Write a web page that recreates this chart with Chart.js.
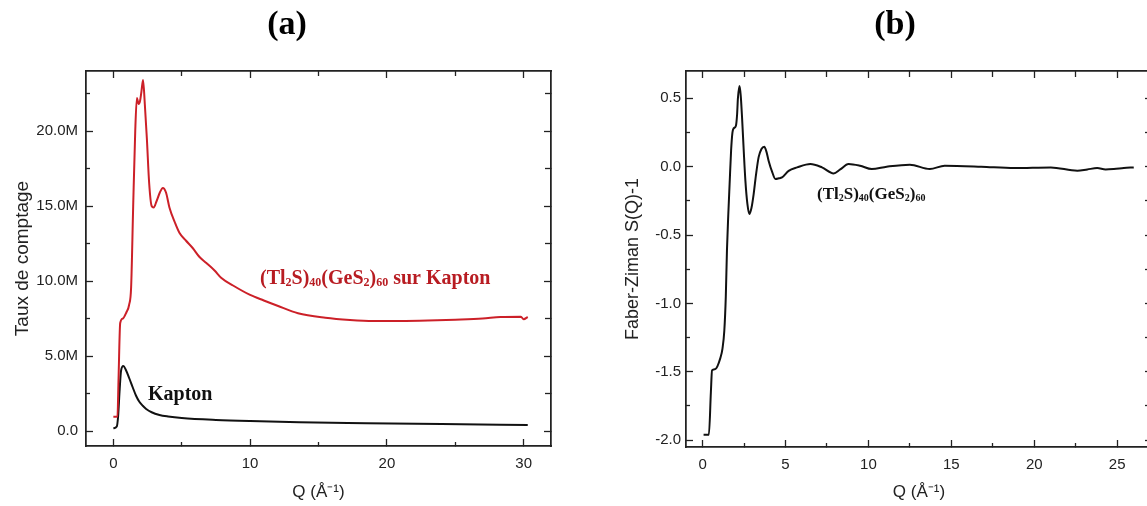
<!DOCTYPE html>
<html><head><meta charset="utf-8">
<script src="https://cdn.jsdelivr.net/npm/chart.js@4.4.0/dist/chart.umd.min.js"></script>
<style>
html,body{margin:0;padding:0;background:#fff;overflow:hidden;width:1147px;height:506px;position:relative;}
#wa{position:absolute;left:0;top:0;width:580px;height:506px;}
#wb{position:absolute;left:600px;top:0;width:560px;height:506px;}
.lbl{position:absolute;top:3px;width:120px;text-align:center;font:bold 34px "Liberation Serif",serif;color:#000;line-height:40px;}
</style></head><body>
<div id="wa"><canvas id="ca"></canvas></div>
<div id="wb"><canvas id="cb"></canvas></div>
<div class="lbl" style="left:227px">(a)</div>
<div class="lbl" style="left:835px">(b)</div>
<script>
// ---- Panel (a): counting rate vs Q ----
const qSample = [0, 0.3, 0.38, 0.5, 0.7, 0.95, 1.15, 1.3, 1.45, 1.6, 1.72, 1.85, 1.95, 2.05, 2.17, 2.3, 2.45, 2.62, 2.8, 2.95, 3.15, 3.4, 3.62, 3.85, 4.1, 4.5, 4.84, 5.3, 5.8, 6.3, 6.8, 7.4, 7.9, 8.75, 10.0, 11.0, 12.0, 13.5, 15.5, 17.3, 19.0, 21.0, 23.0, 25.0, 27.0, 28.3, 29.8, 30.0, 30.3];
const countsSample = [0.95, 0.95, 3.5, 7.2, 7.5, 7.9, 8.4, 9.6, 15.0, 20.0, 22.2, 21.8, 22.0, 22.6, 23.4, 21.8, 19.5, 16.5, 15.0, 14.9, 15.3, 15.9, 16.2, 15.9, 14.9, 13.9, 13.2, 12.7, 12.2, 11.6, 11.2, 10.7, 10.2, 9.7, 9.07, 8.7, 8.35, 7.85, 7.55, 7.4, 7.33, 7.33, 7.36, 7.42, 7.5, 7.6, 7.62, 7.45, 7.6].map(v => v * 1e6);
const qKapton = [0, 0.25, 0.35, 0.45, 0.56, 0.73, 0.9, 1.17, 1.42, 1.66, 1.9, 2.15, 2.4, 2.8, 3.37, 4.0, 5.0, 7.5, 10, 13.6, 18.5, 24, 30.3];
const countsKapton = [0.18, 0.3, 1.0, 2.6, 4.0, 4.33, 4.1, 3.5, 2.9, 2.35, 1.95, 1.68, 1.47, 1.25, 1.07, 0.97, 0.87, 0.74, 0.66, 0.58, 0.52, 0.46, 0.4].map(v => v * 1e6);
const xTicksA = [0, 10, 20, 30];
const xMinorA = [5, 15, 25];
const yTicksA = [0, 5e6, 10e6, 15e6, 20e6];
const yMinorA = [2.5e6, 7.5e6, 12.5e6, 17.5e6, 22.5e6];

// ---- Panel (b): Faber-Ziman S(Q)-1 ----
const qSQ = [0.06, 0.38, 0.5, 0.57, 0.77, 1.07, 1.2, 1.31, 1.4, 1.47, 1.55, 1.63, 1.72, 1.8, 1.87, 2.01, 2.08, 2.13, 2.23, 2.3, 2.38, 2.48, 2.58, 2.7, 2.82, 2.95, 3.08, 3.22, 3.38, 3.55, 3.72, 3.85, 3.98, 4.2, 4.39, 4.6, 4.79, 5.19, 5.7, 6.5, 7.2, 7.9, 8.3, 8.8, 9.5, 10.2, 11.1, 12.5, 13.7, 14.6, 16.8, 18.8, 21.0, 22.6, 23.2, 23.8, 24.3, 24.8, 25.4, 26.0];
const sqValues = [-1.96, -1.96, -1.65, -1.49, -1.48, -1.40, -1.33, -1.20, -0.95, -0.61, -0.35, -0.125, 0.12, 0.25, 0.28, 0.30, 0.38, 0.5, 0.59, 0.52, 0.36, 0.12, -0.10, -0.27, -0.346, -0.3, -0.2, -0.06, 0.07, 0.13, 0.146, 0.11, 0.044, -0.04, -0.09, -0.085, -0.078, -0.03, -0.005, 0.02, -0.005, -0.049, -0.02, 0.02, 0.007, -0.017, 0.0, 0.015, -0.017, 0.007, 0.0, -0.01, -0.005, -0.03, -0.02, -0.01, -0.02, -0.017, -0.01, -0.005];
const xTicksB = [0, 5, 10, 15, 20, 25];
const xMinorB = [2.5, 7.5, 12.5, 17.5, 22.5];
const yTicksB = [-2, -1.5, -1, -0.5, 0, 0.5];
const yMinorB = [-1.75, -1.25, -0.75, -0.25, 0.25];

const SANS = '"Liberation Sans", Arial, sans-serif';
const SERIF = '"Liberation Serif", "Times New Roman", serif';
const INK = '#222';

function mkAxis(o) {
  const horiz = o.pos === 'top' || o.pos === 'bottom';
  return {
    type: 'linear', position: o.pos, min: o.min, max: o.max, weight: o.weight || 0,
    afterBuildTicks: s => { s.ticks = o.ticks.map(v => ({ value: v })); },
    afterFit: s => { if (horiz) s.height = o.size || 0; else s.width = o.size || 0; },
    grid: { display: true, drawOnChartArea: false, drawTicks: true, tickLength: -o.len, tickColor: INK, tickWidth: 1.3 },
    border: { display: true, color: INK, width: 1.5 },
    ticks: { display: !!o.fmt, padding: o.pad || 0, font: { family: SANS, size: 15 }, color: INK,
             callback: o.fmt || (() => ''), maxRotation: 0, minRotation: 0, autoSkip: false },
    title: o.title || { display: false }
  };
}

function richText(ctx, x, y, parts, size, sub, color) {
  ctx.save();
  ctx.fillStyle = color;
  ctx.textBaseline = 'alphabetic';
  for (const [t, isSub] of parts) {
    ctx.font = 'bold ' + (isSub ? sub : size) + 'px ' + SERIF;
    ctx.fillText(t, x, isSub ? y + 2 : y);
    x += ctx.measureText(t).width;
  }
  ctx.restore();
}
const formulaParts = [['(Tl', 0], ['2', 1], ['S)', 0], ['40', 1], ['(GeS', 0], ['2', 1], [')', 0], ['60', 1]];

const annotA = {
  id: 'annotA',
  afterDatasetsDraw(chart) {
    const ctx = chart.ctx;
    richText(ctx, 260, 284, formulaParts.concat([[' sur Kapton', 0]]), 20, 12, '#b81c22');
    richText(ctx, 148, 400, [['Kapton', 0]], 20, 12, '#111');
  }
};
const annotB = {
  id: 'annotB',
  afterDatasetsDraw(chart) {
    richText(chart.ctx, 217, 199, formulaParts, 17, 10, '#111');
  }
};

const fmtM = v => v === 0 ? '0.0' : (v / 1e6).toFixed(1) + 'M';
const fmt1 = v => v.toFixed(1);
const fmt0 = v => String(v);
const qTitle = (pad) => ({ display: true, text: 'Q (Å⁻¹)', color: INK, font: { family: SANS, size: 17 }, padding: { top: 0, bottom: pad } });

new Chart(document.getElementById('ca'), {
  type: 'line',
  data: {
    datasets: [
      { data: qSample.map((q, i) => ({ x: q, y: countsSample[i] })), borderColor: '#cc2028', borderWidth: 2,
        pointRadius: 0, cubicInterpolationMode: 'monotone', fill: false },
      { data: qKapton.map((q, i) => ({ x: q, y: countsKapton[i] })), borderColor: '#111', borderWidth: 2,
        pointRadius: 0, cubicInterpolationMode: 'monotone', fill: false }
    ]
  },
  options: {
    animation: false, responsive: true, maintainAspectRatio: false,
    layout: { padding: { top: 71, right: 29, left: 0, bottom: 0 } },
    plugins: { legend: { display: false }, tooltip: { enabled: false } },
    scales: {
      x: mkAxis({ pos: 'bottom', min: -2, max: 32, ticks: xTicksA, len: 7, fmt: fmt0, pad: 16, size: 60, weight: 1, title: qTitle(3) }),
      x2: mkAxis({ pos: 'bottom', min: -2, max: 32, ticks: xMinorA, len: 4 }),
      xt: mkAxis({ pos: 'top', min: -2, max: 32, ticks: xTicksA, len: 7 }),
      xt2: mkAxis({ pos: 'top', min: -2, max: 32, ticks: xMinorA, len: 5 }),
      y: mkAxis({ pos: 'left', min: -1e6, max: 24e6, ticks: yTicksA, len: 7, fmt: fmtM, pad: 15, size: 86, weight: 1,
        title: { display: true, text: 'Taux de comptage', color: INK, font: { family: SANS, size: 19 }, padding: { top: 11, bottom: 0 } } }),
      y2: mkAxis({ pos: 'left', min: -1e6, max: 24e6, ticks: yMinorA, len: 4 }),
      yr: mkAxis({ pos: 'right', min: -1e6, max: 24e6, ticks: yTicksA, len: 7 }),
      yr2: mkAxis({ pos: 'right', min: -1e6, max: 24e6, ticks: yMinorA, len: 6 })
    }
  },
  plugins: [annotA]
});

new Chart(document.getElementById('cb'), {
  type: 'line',
  data: {
    datasets: [
      { data: qSQ.map((q, i) => ({ x: q, y: sqValues[i] })), borderColor: '#111', borderWidth: 2,
        pointRadius: 0, cubicInterpolationMode: 'monotone', fill: false }
    ]
  },
  options: {
    animation: false, responsive: true, maintainAspectRatio: false,
    layout: { padding: { top: 71, right: 8, left: 0, bottom: 0 } },
    plugins: { legend: { display: false }, tooltip: { enabled: false } },
    scales: {
      x: mkAxis({ pos: 'bottom', min: -1, max: 27.1, ticks: xTicksB, len: 7, fmt: fmt0, pad: 16, size: 59, weight: 1, title: qTitle(3) }),
      x2: mkAxis({ pos: 'bottom', min: -1, max: 27.1, ticks: xMinorB, len: 4 }),
      xt: mkAxis({ pos: 'top', min: -1, max: 27.1, ticks: xTicksB, len: 7 }),
      xt2: mkAxis({ pos: 'top', min: -1, max: 27.1, ticks: xMinorB, len: 6 }),
      y: mkAxis({ pos: 'left', min: -2.05, max: 0.70, ticks: yTicksB, len: 7, fmt: fmt1, pad: 12, size: 86, weight: 1,
        title: { display: true, text: 'Faber-Ziman S(Q)-1', color: INK, font: { family: SANS, size: 18 }, padding: { top: 22, bottom: 0 } } }),
      y2: mkAxis({ pos: 'left', min: -2.05, max: 0.70, ticks: yMinorB, len: 4 }),
      yr: mkAxis({ pos: 'right', min: -2.05, max: 0.70, ticks: yTicksB, len: 7 }),
      yr2: mkAxis({ pos: 'right', min: -2.05, max: 0.70, ticks: yMinorB, len: 7 })
    }
  },
  plugins: [annotB]
});
</script>
</body></html>
